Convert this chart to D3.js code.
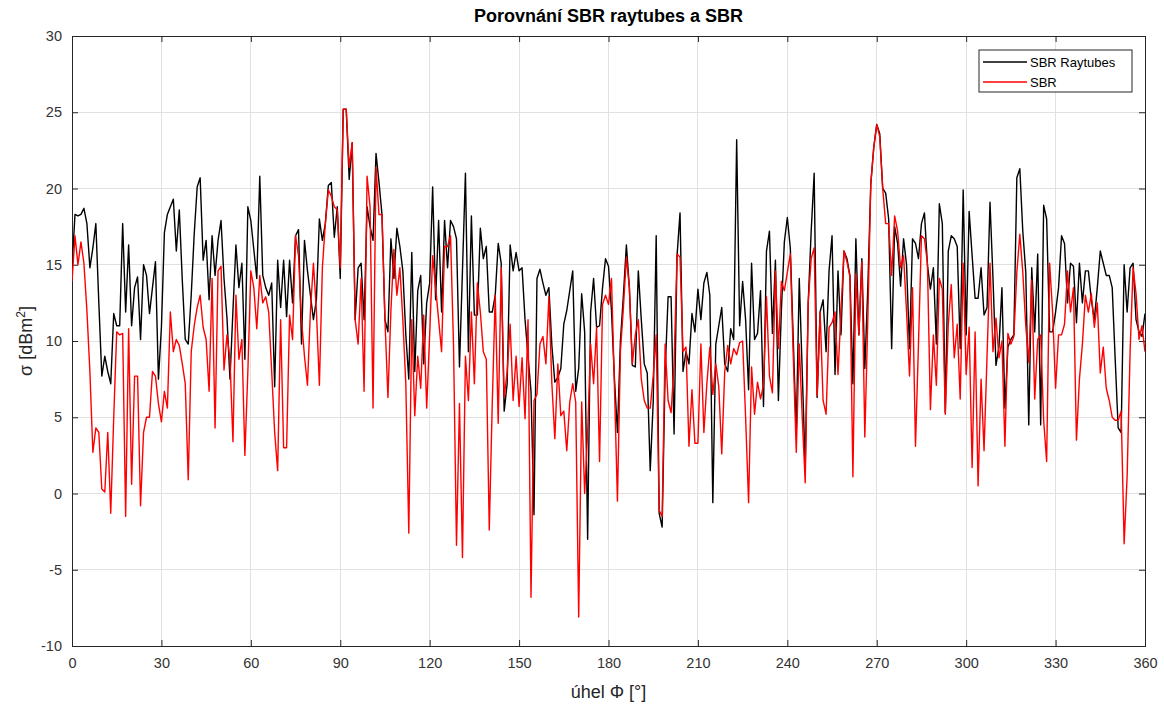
<!DOCTYPE html>
<html><head><meta charset="utf-8">
<script src="https://cdn.jsdelivr.net/npm/d3@7"></script>
<style>
html,body{margin:0;padding:0;background:#fff;}
svg text{font-family:"Liberation Sans",Arial,Helvetica,sans-serif;}
</style></head>
<body>
<svg id="chart" width="1164" height="705"></svg>
<script>
const angles = d3.range(0, 361, 1);
const xTicks = [0,30,60,90,120,150,180,210,240,270,300,330,360];
const yTicks = [-10,-5,0,5,10,15,20,25,30];
const seriesNames = ["SBR Raytubes","SBR"];
const sbrRaytubes = [
14.8,18.3,18.2,18.3,18.7,17.7,14.8,16.1,17.7,12.5,
7.7,9.0,8.0,7.2,11.8,11.0,11.0,17.7,11.9,16.3,
11.0,13.5,14.2,10.1,15.0,14.3,11.8,13.5,15.2,7.5,
10.9,17.1,18.3,18.8,19.3,15.9,18.6,14.0,10.1,9.8,
13.0,17.0,20.1,20.7,15.3,16.6,12.7,16.9,14.3,16.6,
17.9,14.1,11.5,7.5,12.0,16.3,13.5,15.1,8.8,18.8,
17.9,16.0,14.1,20.8,14.3,13.5,13.0,13.8,7.0,15.3,
12.2,15.3,11.6,15.3,12.5,16.9,17.3,9.8,16.6,14.6,
13.0,11.4,12.7,18.0,16.6,17.7,20.2,20.4,16.8,18.8,
14.1,25.2,25.2,20.6,23.0,11.4,14.8,15.1,11.4,18.8,
17.5,16.6,22.3,20.4,18.3,11.4,10.6,16.7,14.1,17.4,
16.2,14.6,10.4,7.5,15.8,8.0,13.3,14.3,8.5,12.5,
13.8,20.1,12.7,17.9,11.9,17.9,14.8,17.9,17.5,16.7,
8.3,14.6,21.0,9.3,18.2,11.7,11.7,17.4,15.4,16.2,
11.9,11.9,13.0,16.4,15.1,5.4,7.2,16.3,14.6,15.8,
14.6,14.8,11.4,9.0,6.7,-1.4,14.1,14.7,13.8,13.0,
13.5,9.7,7.3,7.6,8.2,11.1,12.0,13.3,14.6,6.7,
8.2,13.1,10.6,-3.0,11.9,14.1,10.9,11.0,13.5,15.4,
14.9,12.0,7.5,4.0,10.0,13.0,16.3,13.5,8.4,8.3,
14.6,11.4,8.5,7.9,1.5,6.0,16.9,-1.3,-2.2,8.0,
12.9,12.9,3.9,15.6,18.4,8.0,9.3,8.5,11.8,10.6,
13.4,11.4,13.8,14.5,13.0,-0.6,9.8,11.0,12.2,8.5,
8.0,10.8,10.1,23.2,11.0,13.9,11.4,6.8,15.1,10.1,
10.5,13.3,5.7,15.9,17.2,10.5,15.3,6.1,12.0,16.5,
18.1,16.1,10.0,4.0,14.1,8.0,1.7,12.5,17.2,21.0,
6.3,11.9,12.7,9.3,14.6,16.9,7.8,14.6,10.4,15.9,
15.4,14.3,7.2,16.7,10.4,15.4,8.2,13.5,20.3,22.7,
24.2,23.6,20.0,19.7,18.0,9.5,17.5,16.4,13.6,16.7,
15.0,9.5,16.7,16.4,15.4,17.7,18.4,15.0,13.4,14.8,
9.8,19.0,17.7,5.3,15.9,16.9,16.7,16.2,9.5,19.9,
10.4,18.5,15.6,12.8,12.8,14.8,11.7,12.2,19.1,14.1,
8.4,9.6,13.5,5.6,9.6,10.1,10.4,20.7,21.3,17.2,
14.5,4.5,14.8,10.6,15.7,4.5,18.9,18.0,10.6,10.6,
11.9,13.5,16.9,16.4,12.5,15.1,14.9,11.2,15.1,12.5,
14.6,14.6,12.7,11.4,13.5,15.9,15.1,14.3,14.3,13.5,
8.8,4.3,4.0,15.0,11.9,14.8,15.1,11.4,10.6,10.3,11.8
];
const sbr = [
13.9,16.9,15.0,16.5,15.1,12.0,8.0,2.7,4.3,4.0,
0.3,0.1,4.0,-1.3,5.0,10.6,10.4,10.5,-1.5,10.8,
0.6,7.7,7.7,-0.8,4.0,5.0,5.0,8.0,7.7,5.9,
4.7,6.7,5.6,11.9,9.3,10.1,9.7,8.5,7.2,0.9,
9.3,11.0,12.2,13.0,10.9,10.1,6.7,14.1,4.3,14.6,
14.9,8.1,10.4,8.8,3.4,13.0,8.8,10.1,2.5,8.0,
14.6,13.5,10.8,14.3,12.5,12.9,11.9,8.0,4.0,1.5,
11.4,3.0,3.0,11.7,10.1,16.9,15.6,11.4,9.0,7.1,
12.0,15.1,12.0,7.1,14.8,17.7,19.9,19.5,18.8,18.6,
14.8,25.2,25.2,21.4,23.0,11.4,9.8,14.1,6.7,20.8,
18.8,5.6,21.4,18.3,18.3,11.4,6.3,12.0,16.0,13.0,
14.8,11.4,7.2,-2.6,11.4,5.1,9.0,6.9,11.7,5.6,
10.4,15.6,13.5,11.4,9.3,16.2,16.2,16.9,9.8,-3.4,
5.9,-4.2,9.0,6.1,11.9,7.2,13.8,11.9,9.3,8.8,
-2.4,5.9,13.0,4.6,14.8,6.3,8.0,11.1,6.1,9.0,
5.7,8.9,4.9,11.4,-6.8,6.1,6.5,9.8,10.3,8.5,
12.9,7.2,3.6,8.5,5.1,5.4,2.8,6.0,7.2,6.0,
-8.1,6.0,0.0,4.0,9.8,7.2,10.9,2.1,12.4,13.0,
12.4,14.1,7.0,-0.5,9.3,12.2,15.5,13.5,8.5,10.4,
11.4,7.5,6.1,5.6,5.6,7.7,10.4,-1.1,-1.5,9.8,
6.1,5.3,8.5,15.7,15.5,9.3,9.6,3.1,6.8,3.3,
3.3,9.8,4.0,7.2,9.6,6.5,8.5,7.0,2.6,8.0,
9.7,8.5,9.5,9.1,9.9,10.0,5.0,-0.6,8.3,5.2,
7.3,6.2,7.1,12.9,7.7,6.6,14.6,9.5,13.9,13.3,
14.5,15.7,9.0,2.7,9.8,5.0,0.7,12.5,15.4,16.1,
6.4,11.9,6.1,5.2,10.9,11.2,11.9,7.8,11.9,15.9,
15.2,14.2,1.1,14.4,10.4,15.2,3.7,11.4,20.3,22.7,
24.2,23.4,20.0,17.7,17.7,14.3,18.2,17.2,14.8,15.6,
11.9,7.7,13.5,3.1,9.8,16.9,16.7,15.1,5.5,10.4,
7.1,14.1,13.4,5.2,11.1,13.7,8.9,11.1,6.2,15.1,
7.8,10.9,1.7,10.6,0.5,7.5,2.8,9.0,15.1,9.3,
11.5,8.9,10.0,3.1,10.5,9.8,10.3,14.5,17.0,14.5,
11.0,8.6,14.0,6.2,10.1,10.4,4.8,2.1,15.1,11.9,
6.9,10.4,10.4,11.1,14.6,11.9,13.5,3.5,7.5,9.8,
13.0,11.9,13.1,10.9,12.5,7.9,9.6,6.9,6.1,5.0,
4.8,4.8,5.4,-3.3,1.1,9.3,14.8,13.1,10.1,11.0,9.3
];

const svg = d3.select("#chart");
const L = 72, R = 1145, T = 36, B = 646;
const x = d3.scaleLinear().domain([0,360]).range([L,R]);
const y = d3.scaleLinear().domain([-10,30]).range([B,T]);
const axisCol = "#262626";

svg.append("rect").attr("width",1164).attr("height",705).attr("fill","#fff");

// grid
const g = svg.append("g");
g.selectAll(".gx").data(xTicks.slice(1,-1)).enter().append("line")
  .attr("x1",d=>x(d)).attr("x2",d=>x(d)).attr("y1",T).attr("y2",B)
  .attr("stroke","#e1e1e1").attr("stroke-width",1).attr("shape-rendering","crispEdges");
g.selectAll(".gy").data(yTicks.slice(1,-1)).enter().append("line")
  .attr("x1",L).attr("x2",R).attr("y1",d=>y(d)).attr("y2",d=>y(d))
  .attr("stroke","#e1e1e1").attr("stroke-width",1).attr("shape-rendering","crispEdges");

// axes
const fmt = d => String(d);
const xAxis = d3.axisBottom(x).tickValues(xTicks).tickSize(-6).tickPadding(12).tickFormat(fmt);
const yAxis = d3.axisLeft(y).tickValues(yTicks).tickSize(-6).tickPadding(10).tickFormat(fmt);
const xTop = d3.axisTop(x).tickValues(xTicks).tickSize(-6).tickFormat("");
const yRight = d3.axisRight(y).tickValues(yTicks).tickSize(-6).tickFormat("");

function style(sel){
  sel.selectAll("path").attr("stroke",axisCol).attr("stroke-width",1.2);
  sel.selectAll("line").attr("stroke",axisCol).attr("stroke-width",1);
  sel.selectAll("text").attr("fill","#333").attr("font-size",14.5);
}
svg.append("g").attr("transform",`translate(0,${B})`).call(xAxis).call(style);
svg.append("g").attr("transform",`translate(${L},0)`).call(yAxis).call(style);
svg.append("g").attr("transform",`translate(0,${T})`).call(xTop).call(style);
svg.append("g").attr("transform",`translate(${R},0)`).call(yRight).call(style);
svg.selectAll(".domain").attr("shape-rendering","crispEdges");

// lines
const line = d3.line().x((d,i)=>x(angles[i])).y(d=>y(d));
svg.append("clipPath").attr("id","clip").append("rect")
  .attr("x",L).attr("y",T).attr("width",R-L).attr("height",B-T);
svg.append("path").datum(sbrRaytubes).attr("d",line).attr("fill","none")
  .attr("stroke","#000").attr("stroke-width",1.4).attr("stroke-linejoin","round").attr("clip-path","url(#clip)");
svg.append("path").datum(sbr).attr("d",line).attr("fill","none")
  .attr("stroke","#ff0000").attr("stroke-width",1.4).attr("stroke-linejoin","round").attr("clip-path","url(#clip)");

// title & labels
svg.append("text").attr("x",(L+R)/2).attr("y",22).attr("text-anchor","middle")
  .attr("font-size",18).attr("font-weight","bold").attr("fill","#000").text("Porovnání SBR raytubes a SBR");
svg.append("text").attr("x",(L+R)/2).attr("y",698).attr("text-anchor","middle")
  .attr("font-size",18).attr("fill","#262626").text("úhel Φ [°]");
const yl = svg.append("text").attr("transform",`translate(32,${(T+B)/2}) rotate(-90)`)
  .attr("text-anchor","middle").attr("font-size",18).attr("fill","#262626");
yl.append("tspan").text("σ [dBm");
yl.append("tspan").attr("font-size",12).attr("dy",-7).text("2");
yl.append("tspan").attr("dy",7).text("]");

// legend
const colors = ["#000","#ff0000"];
const lg = svg.append("g");
lg.append("rect").attr("x",979).attr("y",50).attr("width",153).attr("height",42)
  .attr("fill","#fff").attr("stroke",axisCol).attr("stroke-width",1);
seriesNames.forEach((n,i)=>{
  const yy = 62 + i*20;
  lg.append("line").attr("x1",983).attr("x2",1027).attr("y1",yy).attr("y2",yy)
    .attr("stroke",colors[i]).attr("stroke-width",1.4);
  lg.append("text").attr("x",1030).attr("y",yy+4.5).attr("font-size",13).attr("fill","#000").text(n);
});
</script>
</body></html>
